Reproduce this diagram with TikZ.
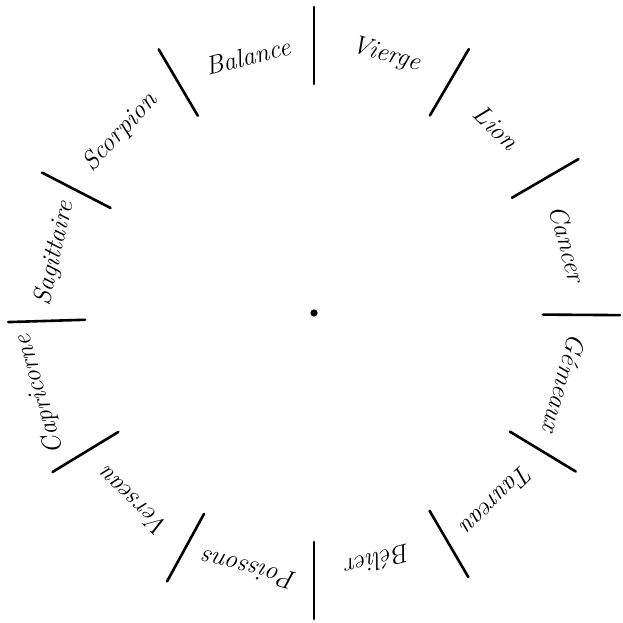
\documentclass[tikz,border=0pt]{standalone}
\usetikzlibrary{calc}
\begin{document}
\begin{tikzpicture}[x=1pt,y=1pt,
  tick/.style={line width=2.6pt,line cap=round},
  sign/.style={font=\fontsize{26}{28}\selectfont\itshape,inner sep=0pt}]
\useasboundingbox (0,0) rectangle (623,622);
\coordinate (c) at (314,309);
\fill (c) circle (3.6);
% ticks
\foreach \a/\n in {90/t1,120.5/t2,152.7/t3,181.7/t4,211.3/t5,241.3/t6,270/t7,300.3/t8,328.8/t9,359.6/t10,30.2/t11,59.6/t12}{
  \coordinate (\n i) at ($(c)+(\a:229)$);
  \coordinate (\n o) at ($(c)+(\a:306)$);
  \draw[tick] (\n i) -- (\n o);
}
% labels
\foreach \n/\a/\r/\t in {balance/104.5/265/Balance, vierge/74.5/268/Vierge, lion/45.5/260/Lion,
  cancer/15.3/263/Cancer, gemeaux/-15.8/260/Gémeaux, taureau/-45.5/262/Taureau,
  belier/-75.5/256/Bélier, poissons/255.8/265/Poissons, verseau/226.3/262/Verseau,
  capricorne/196.5/286/Capricorne, sagittaire/167/266/Sagittaire, scorpion/137/265/Scorpion}{
  \pgfmathsetmacro{\rot}{\a-90}
  \node[sign,rotate=\rot] (\n) at ($(c)+(\a:\r)$) {\t};
}
\end{tikzpicture}
\end{document}
